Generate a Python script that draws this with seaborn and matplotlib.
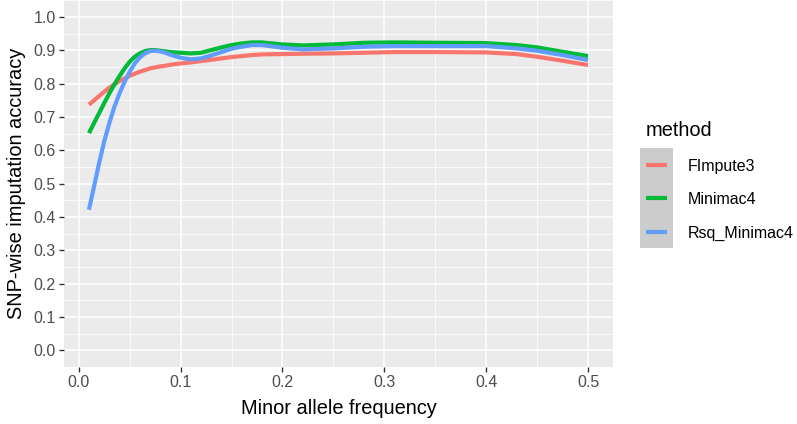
import pandas as pd
import matplotlib
matplotlib.use('Agg')
import matplotlib.pyplot as plt
from matplotlib.patches import Rectangle
from matplotlib.ticker import MultipleLocator
import seaborn as sns

# valores
maf = [0.01, 0.015, 0.02, 0.025, 0.03, 0.035, 0.04, 0.045, 0.05, 0.055, 0.06, 0.065, 0.07,
       0.075, 0.08, 0.085, 0.09, 0.10, 0.11, 0.12, 0.13, 0.14, 0.15, 0.16, 0.17, 0.18,
       0.20, 0.22, 0.25, 0.28, 0.31, 0.35, 0.40, 0.43, 0.45, 0.475, 0.50]
fimpute3 = [0.737, 0.750, 0.763, 0.776, 0.788, 0.798, 0.808, 0.816, 0.824, 0.830, 0.836, 0.841, 0.846,
            0.849, 0.852, 0.854, 0.857, 0.861, 0.864, 0.868, 0.872, 0.876, 0.880, 0.883, 0.886, 0.888,
            0.889, 0.890, 0.891, 0.893, 0.895, 0.895, 0.894, 0.889, 0.881, 0.869, 0.856]
minimac4 = [0.652, 0.682, 0.712, 0.742, 0.771, 0.798, 0.823, 0.846, 0.866, 0.881, 0.891, 0.898, 0.901,
            0.901, 0.899, 0.897, 0.895, 0.893, 0.891, 0.893, 0.901, 0.909, 0.916, 0.921, 0.924, 0.924,
            0.918, 0.915, 0.918, 0.923, 0.924, 0.923, 0.922, 0.916, 0.909, 0.896, 0.883]
rsq_minimac4 = [0.422, 0.492, 0.562, 0.627, 0.682, 0.731, 0.771, 0.806, 0.836, 0.861, 0.879, 0.891, 0.898,
                0.899, 0.897, 0.893, 0.887, 0.878, 0.873, 0.876, 0.885, 0.895, 0.905, 0.911, 0.916, 0.916,
                0.908, 0.903, 0.906, 0.911, 0.913, 0.913, 0.913, 0.906, 0.899, 0.886, 0.871]
metodos = ['FImpute3', 'Minimac4', 'Rsq_Minimac4']
CORES = ['#F8766D', '#00BA38', '#619CFF']  # paleta padrão do ggplot

df = pd.DataFrame({
    'maf': maf * 3,
    'acc': fimpute3 + minimac4 + rsq_minimac4,
    'method': [m for m in metodos for _ in maf],
})

plt.rcParams['font.family'] = ['Liberation Sans', 'DejaVu Sans']

fig = plt.figure(figsize=(7.97, 4.24), dpi=100)
ax = fig.add_axes([64 / 797, 1 - 367 / 424, (613 - 64) / 797, 367 / 424 - 0.001])
ax.set_facecolor('#EBEBEB')

sns.lineplot(data=df, x='maf', y='acc', hue='method', palette=CORES,
             hue_order=metodos, linewidth=3, ax=ax, solid_capstyle='butt')

# grelha estilo ggplot
ax.set_xlim(-0.0145, 0.5245)
ax.set_ylim(-0.05, 1.05)
ax.xaxis.set_minor_locator(MultipleLocator(0.05))
ax.yaxis.set_minor_locator(MultipleLocator(0.05))
ax.set_xticks([0, 0.1, 0.2, 0.3, 0.4, 0.5])
ax.set_xticklabels(['0.0', '0.1', '0.2', '0.3', '0.4', '0.5'])
ax.set_yticks([i / 10 for i in range(11)])
ax.set_yticklabels([f'{i / 10:.1f}' for i in range(11)])
ax.grid(which='major', color='white', linewidth=1.1)
ax.grid(which='minor', color='white', linewidth=0.55)
ax.set_axisbelow(True)
for s in ax.spines.values():
    s.set_visible(False)
ax.tick_params(which='major', length=3.5, width=1, color='#333333',
               labelsize=11.5, labelcolor='#4D4D4D', pad=2.5)
ax.tick_params(which='minor', length=0)

ax.set_xlabel('Minor allele frequency', fontsize=14.4, labelpad=6)
ax.set_ylabel('SNP-wise imputation accuracy', fontsize=14.4, labelpad=5)

# legenda
sns.move_legend(ax, 'upper left', bbox_to_anchor=(638 / 797, 1 - 113 / 424),
                bbox_transform=fig.transFigure, frameon=False, title='method',
                fontsize=11.5, title_fontsize=14.4, handlelength=1.3,
                handletextpad=1.34, labelspacing=1.16, borderpad=0)
leg = ax.get_legend()
leg._legend_box.align = 'left'
leg.set_zorder(10)
for h in leg.legend_handles:
    h.set_linewidth(3)
    h.set_solid_capstyle('butt')

# fundo cinzento das chaves da legenda
fig.canvas.draw()
exts = [h.get_window_extent() for h in leg.legend_handles]
xc = (exts[0].x0 + exts[0].x1) / 2
ytop = max((e.y0 + e.y1) / 2 for e in exts) + 17
ybot = min((e.y0 + e.y1) / 2 for e in exts) - 16
fundo = Rectangle((xc - 16.5, ybot), 33, ytop - ybot, transform=None,
                  facecolor='#CCCCCC', edgecolor='none', zorder=4, clip_on=False)
ax.add_artist(fundo)

plt.savefig('out.png', dpi=100)
plt.close()
